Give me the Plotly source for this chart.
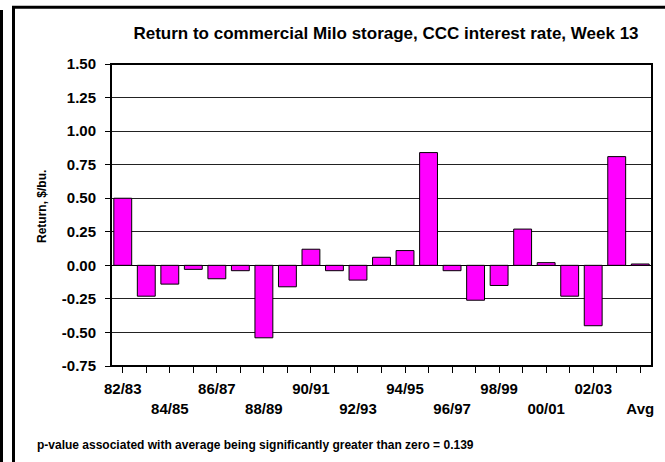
import plotly.graph_objects as go

# Seasonal returns to commercial milo storage ($/bu.), last bar is the average
seasons = ["82/83", "83/84", "84/85", "85/86", "86/87", "87/88", "88/89", "89/90",
           "90/91", "91/92", "92/93", "93/94", "94/95", "95/96", "96/97", "97/98",
           "98/99", "99/00", "00/01", "01/02", "02/03", "03/04", "Avg"]
returns = [0.50, -0.23, -0.14, -0.03, -0.10, -0.04, -0.54, -0.16, 0.12, -0.04,
           -0.11, 0.06, 0.11, 0.84, -0.04, -0.26, -0.15, 0.27, 0.02, -0.23,
           -0.45, 0.81, 0.01]
y_ticks = [-0.75, -0.50, -0.25, 0.00, 0.25, 0.50, 0.75, 1.00, 1.25, 1.50]

W, H = 665, 462
L, R, T, B = 111, 13, 64, 96
PW, PH = W - L - R, H - T - B

def px(x):
    return (x - L) / PW

def py(y):
    return (H - B - y) / PH

# Every other season is labelled, alternating between two rows
tick_text = []
for i, s in enumerate(seasons):
    if i % 4 == 0:
        tick_text.append(s)
    elif i % 4 == 2:
        tick_text.append("<br>" + s)
    else:
        tick_text.append("")

font = "Liberation Sans, Arial, sans-serif"

fig = go.Figure(go.Bar(
    x=seasons, y=returns,
    marker=dict(color="#FF00FF", line=dict(color="black", width=1)),
    width=0.76,
))

fig.update_layout(
    width=W, height=H,
    margin=dict(l=L, r=R, t=T, b=B),
    paper_bgcolor="white", plot_bgcolor="white",
    showlegend=False,
    font=dict(family=font, color="black"),
    title=dict(text="<b>Return to commercial Milo storage, CCC interest rate, Week 13</b>",
               xref="container", x=386 / W, xanchor="center",
               yref="container", y=1 - 33 / H, yanchor="middle",
               font=dict(size=17)),
    xaxis=dict(
        type="category", tickmode="array", tickvals=seasons, ticktext=tick_text,
        ticks="outside", ticklen=6, tickwidth=1, tickcolor="black",
        ticklabelstandoff=3,
        tickfont=dict(size=15, family=font, weight="bold"),
        showline=False, showgrid=False, zeroline=False,
        range=[-0.5, len(seasons) - 0.5],
    ),
    yaxis=dict(
        range=[-0.75, 1.50], tickmode="array", tickvals=y_ticks,
        ticktext=[f"{v:.2f}" for v in y_ticks],
        ticks="outside", ticklen=5, tickwidth=1, tickcolor="black",
        ticklabelstandoff=6,
        tickfont=dict(size=15, family=font, weight="bold"),
        showgrid=True, gridcolor="#222222", gridwidth=1,
        zeroline=True, zerolinecolor="black", zerolinewidth=1,
        showline=False,
    ),
    bargap=0.24,
)

shapes = [
    # plot area border
    dict(type="rect", xref="paper", yref="paper", x0=0, x1=1, y0=0, y1=1,
         line=dict(color="black", width=2), fillcolor="rgba(0,0,0,0)", layer="above"),
    # chart frame lines
    dict(type="line", xref="paper", yref="paper", x0=px(1.5), x1=px(1.5), y0=py(10), y1=py(H + 5),
         line=dict(color="black", width=3)),
    dict(type="line", xref="paper", yref="paper", x0=px(13.5), x1=px(13.5), y0=py(6), y1=py(H + 5),
         line=dict(color="black", width=3)),
    dict(type="line", xref="paper", yref="paper", x0=px(12), x1=px(W + 5), y0=py(7.3), y1=py(7.3),
         line=dict(color="black", width=3)),
]
fig.update_layout(shapes=shapes)

# y-axis title
fig.add_annotation(
    text="<b>Return, $/bu.</b>", textangle=-90,
    xref="paper", yref="paper", x=px(42), y=py(207), xanchor="center", yanchor="middle",
    showarrow=False, font=dict(size=12, family=font, color="black"),
)

fig.add_annotation(
    text="<b>p-value associated with average being significantly greater than zero = 0.139</b>",
    xref="paper", yref="paper", x=px(35), y=py(445), xanchor="left", yanchor="middle",
    showarrow=False, font=dict(size=12, family=font, color="black"),
)

fig.write_html("out.html")
